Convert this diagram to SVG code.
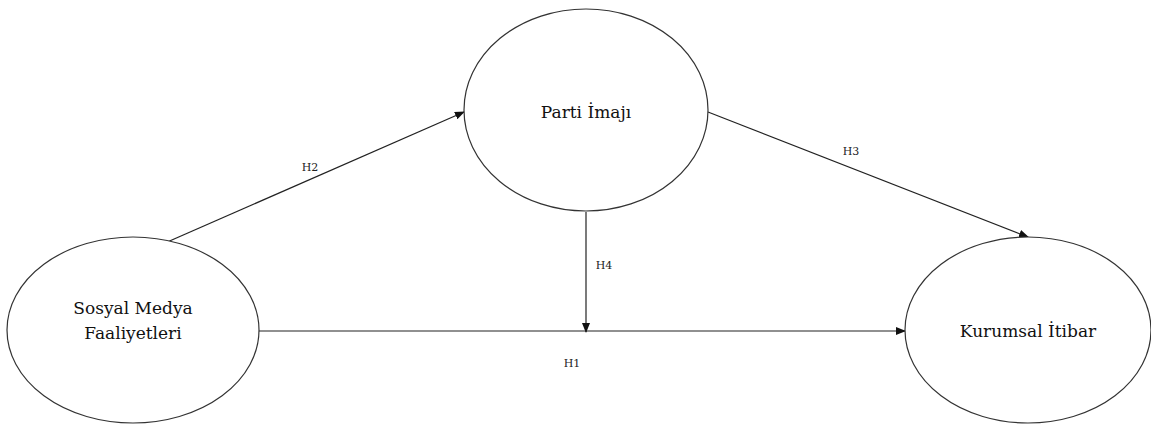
<svg xmlns="http://www.w3.org/2000/svg" width="1151" height="424" viewBox="0 0 1151 424">
<style>
.n{fill:#fff;stroke:#333;stroke-width:1.2}
.t{font-family:"DejaVu Serif","Liberation Serif",serif;font-size:17px;fill:#111;text-anchor:middle}
.l{font-family:"DejaVu Serif","Liberation Serif",serif;font-size:11px;fill:#222;text-anchor:middle}
.c{stroke:#222;stroke-width:1.2;fill:none;marker-end:url(#a)}
</style>
<defs><marker id="a" markerWidth="10" markerHeight="8" refX="9" refY="4" orient="auto" markerUnits="userSpaceOnUse"><path d="M0,0L10,4L0,8Z" fill="#111"/></marker></defs>
<rect width="1151" height="424" fill="#fff"/>
<g id="connectors">
<line class="c" x1="165" y1="243" x2="464" y2="112"/>
<line class="c" x1="708" y1="112" x2="1028" y2="237"/>
<line class="c" x1="586" y1="212" x2="586" y2="332"/>
<line class="c" x1="259" y1="331" x2="905" y2="331"/>
<text class="l" x="310" y="171">H2</text>
<text class="l" x="851" y="155">H3</text>
<text class="l" x="604" y="269">H4</text>
<text class="l" x="572" y="367">H1</text>
</g>
<g id="parti"><ellipse class="n" cx="586" cy="110" rx="122" ry="101"/><text class="t" x="586" y="118">Parti İmajı</text></g>
<g id="sosyal"><ellipse class="n" cx="133" cy="330" rx="126" ry="93"/><text class="t" x="133" y="314">Sosyal Medya</text><text class="t" x="133" y="339">Faaliyetleri</text></g>
<g id="kurumsal"><ellipse class="n" cx="1028" cy="330" rx="123" ry="93"/><text class="t" x="1028" y="337">Kurumsal İtibar</text></g>
</svg>
